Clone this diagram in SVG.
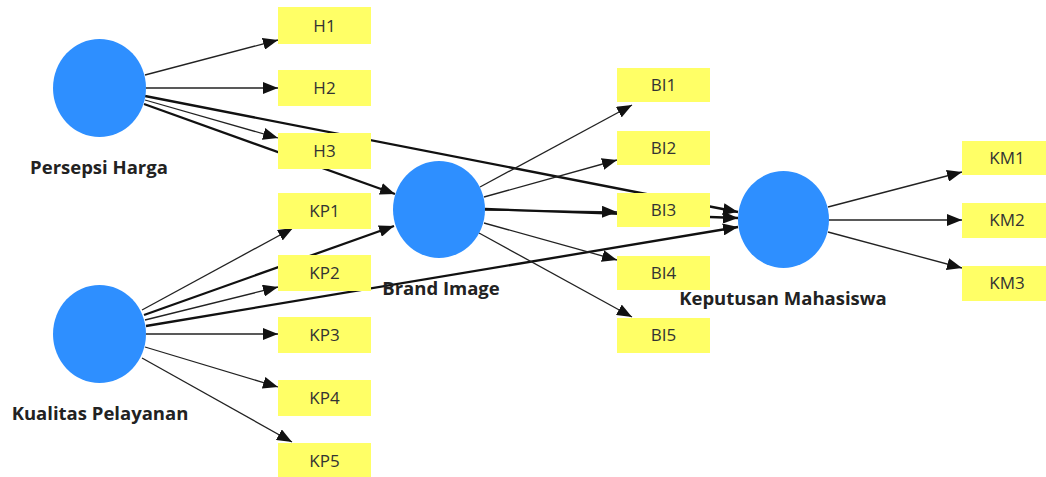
<svg xmlns="http://www.w3.org/2000/svg" width="1046" height="477" viewBox="0 0 1046 477">
<defs>
<style>
.bg{fill:#ffffff}
.lv{fill:#2e8fff}
.ind rect{fill:#ffff66}
.ind text{font-family:"Open Sans","Noto Sans",sans-serif;font-size:17px;fill:#333;text-anchor:middle}
.lbl{font-family:"Open Sans","Noto Sans",sans-serif;font-size:18.5px;font-weight:bold;fill:#222;text-anchor:middle}
.e{stroke:#222;stroke-width:1.3;fill:none;marker-end:url(#ah)}
.t{stroke:#111;stroke-width:2.3;fill:none;marker-end:url(#ah)}
</style>
<marker id="ah" markerUnits="userSpaceOnUse" markerWidth="16" markerHeight="12" refX="15" refY="6" orient="auto">
<path d="M0,0 L15,6 L0,12 z" fill="#111"/>
</marker>
</defs>
<rect class="bg" x="0" y="0" width="1046" height="477"/>
<g id="connectors">
<line class="e" x1="145" y1="75" x2="278" y2="40"/>
<line class="e" x1="146" y1="88" x2="278" y2="88"/>
<line class="e" x1="145" y1="100" x2="278" y2="138"/>
<line class="t" x1="144" y1="104" x2="395" y2="194"/>
<line class="t" x1="145" y1="96" x2="738" y2="212"/>
<line class="e" x1="142" y1="310" x2="293" y2="228"/>
<line class="t" x1="144" y1="315" x2="394" y2="226"/>
<line class="e" x1="145" y1="320" x2="278" y2="287"/>
<line class="t" x1="146" y1="326" x2="738" y2="227"/>
<line class="e" x1="146" y1="334" x2="278" y2="334"/>
<line class="e" x1="145" y1="347" x2="278" y2="387"/>
<line class="e" x1="142" y1="358" x2="292" y2="442"/>
<line class="e" x1="480" y1="187" x2="632" y2="105"/>
<line class="e" x1="484" y1="197" x2="617" y2="160"/>
<line class="e" x1="485" y1="210" x2="617" y2="212"/>
<line class="t" x1="485" y1="209" x2="738" y2="218"/>
<line class="e" x1="484" y1="223" x2="617" y2="260"/>
<line class="e" x1="479" y1="233" x2="632" y2="317"/>
<line class="e" x1="828" y1="207" x2="962" y2="172"/>
<line class="e" x1="829" y1="220" x2="962" y2="220"/>
<line class="e" x1="828" y1="232" x2="962" y2="268"/>
</g>
<g id="H1" class="ind"><rect x="278" y="7" width="93" height="37"/><text x="324.5" y="32">H1</text></g>
<g id="H2" class="ind"><rect x="278" y="70" width="93" height="36"/><text x="324.5" y="94">H2</text></g>
<g id="H3" class="ind"><rect x="278" y="133" width="93" height="36"/><text x="324.5" y="157">H3</text></g>
<g id="KP1" class="ind"><rect x="278" y="193" width="93" height="36"/><text x="324.5" y="217">KP1</text></g>
<g id="KP2" class="ind"><rect x="278" y="255" width="93" height="36"/><text x="324.5" y="279">KP2</text></g>
<g id="KP3" class="ind"><rect x="278" y="317" width="93" height="36"/><text x="324.5" y="341">KP3</text></g>
<g id="KP4" class="ind"><rect x="278" y="380" width="93" height="36"/><text x="324.5" y="404">KP4</text></g>
<g id="KP5" class="ind"><rect x="278" y="443" width="93" height="36"/><text x="324.5" y="467">KP5</text></g>
<g id="BI1" class="ind"><rect x="617" y="68" width="93" height="34"/><text x="663.5" y="91">BI1</text></g>
<g id="BI2" class="ind"><rect x="617" y="131" width="93" height="34"/><text x="663.5" y="154">BI2</text></g>
<g id="BI3" class="ind"><rect x="617" y="193" width="93" height="34"/><text x="663.5" y="216">BI3</text></g>
<g id="BI4" class="ind"><rect x="617" y="256" width="93" height="34"/><text x="663.5" y="279">BI4</text></g>
<g id="BI5" class="ind"><rect x="617" y="318" width="93" height="35"/><text x="663.5" y="341">BI5</text></g>
<g id="KM1" class="ind"><rect x="962" y="141" width="92" height="34"/><text x="1007" y="164">KM1</text></g>
<g id="KM2" class="ind"><rect x="962" y="203" width="92" height="35"/><text x="1007" y="226">KM2</text></g>
<g id="KM3" class="ind"><rect x="962" y="266" width="92" height="35"/><text x="1007" y="289">KM3</text></g>
<g id="PersepsiHarga"><ellipse class="lv" cx="99.5" cy="88" rx="46.5" ry="49"/><text class="lbl" x="99" y="174">Persepsi Harga</text></g>
<g id="KualitasPelayanan"><ellipse class="lv" cx="99.5" cy="334" rx="46.5" ry="49"/><text class="lbl" x="100" y="420">Kualitas Pelayanan</text></g>
<g id="BrandImage"><ellipse class="lv" cx="439" cy="209.5" rx="46" ry="48.5"/><text class="lbl" x="441" y="295">Brand Image</text></g>
<g id="KeputusanMahasiswa"><ellipse class="lv" cx="783.5" cy="219.5" rx="45.5" ry="48.5"/><text class="lbl" x="783" y="305">Keputusan Mahasiswa</text></g>
</svg>
